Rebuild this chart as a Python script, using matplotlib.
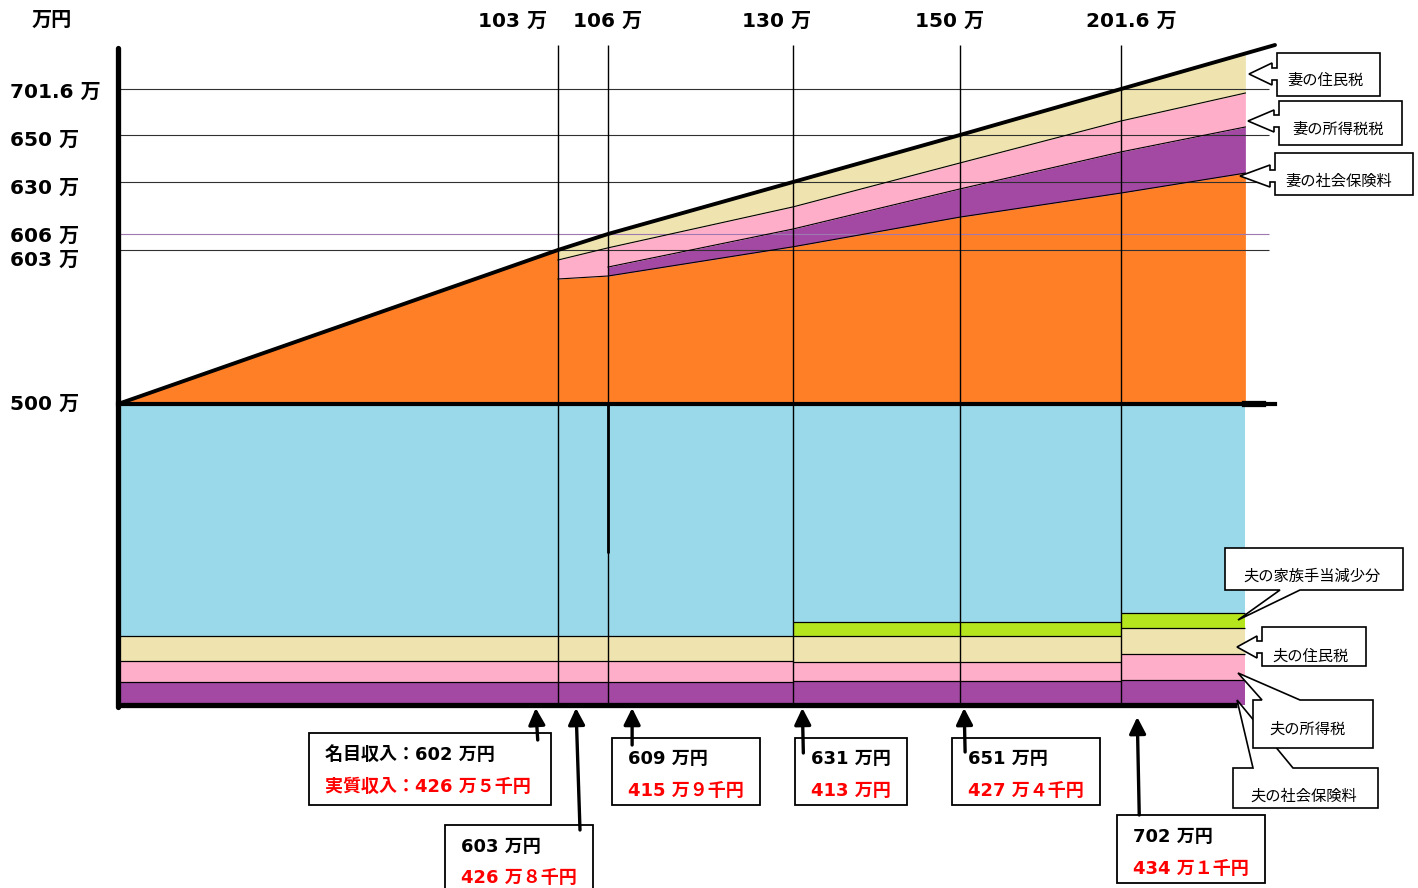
import numpy as np
import matplotlib
matplotlib.use("Agg")
import matplotlib.pyplot as plt
from matplotlib.patches import Polygon, Rectangle, FancyArrowPatch
from matplotlib.transforms import blended_transform_factory, offset_copy

plt.rcParams['font.family'] = ['DejaVu Sans', 'Noto Sans CJK JP']

# ---------------- data (単位: 万円) ----------------
husband_income = 500

# wife's income thresholds on the horizontal axis
wife_breaks = [103, 106, 130, 150, 201.6]
# household nominal income values marked on the vertical axis
y_ticks = [701.6, 650, 630, 606, 603, 500]

# wife's income grid and the deductions taken from her income
wife_x = [0, 103, 103, 106, 106, 130, 150, 201.6, 241.5]
wife_resident_tax = [0, 0, 6.7, 2.6, 2.6, 11.5, 11.9, 35.9, 44.4]
wife_income_tax = [0, 0, 12.7, 17.8, 11.8, 10.2, 11.3, 22.9, 38.1]
wife_social_ins = [0, 0, 0, 0, 6.0, 4.7, 13.0, 17.9, 25.2]

# husband's deductions, constant within each wife-income segment
husband_seg = [0, 130, 201.6, 241.5]
husband_social_ins = [38, 40, 41.5]
husband_income_tax = [35, 31.5, 43]
husband_resident_tax = [41.5, 43, 43]
husband_allowance_cut = [0, 23, 25]

x_max = 251  # right end of the total-income line

# sample points: wife's income and resulting real household income
sample_wife = [102, 103, 109, 131, 151, 202]
sample_real = [426.5, 426.8, 415.9, 413.0, 427.4, 434.1]

# ---------------- colours ----------------
C_BLUE = '#99D9EA'
C_ORANGE = '#FF7F27'
C_LIME = '#B5E61D'
C_CREAM = '#EFE4B0'
C_ROSE = '#FFAEC9'
C_PURPLE = '#A349A4'

# ---------------- layout (pixels) ----------------
W, H = 1418, 888
PLOT_L, PLOT_R, PLOT_T, PLOT_B = 118, 1275, 45, 705
x_anchor_px = [0, 440, 490, 675, 842, 1003, 1157]
y_anchor_px = [0, 301, 455, 471, 523, 570, 616, 660]
ref_line_end = 249
axis_bottom_end = 238.8


def piecewise(src, dst):
    src = np.asarray(src, float)
    dst = np.asarray(dst, float)
    s0 = (dst[1] - dst[0]) / (src[1] - src[0])
    s1 = (dst[-1] - dst[-2]) / (src[-1] - src[-2])

    def f(v):
        v = np.asarray(v, float)
        out = np.interp(v, src, dst)
        out = np.where(v < src[0], dst[0] + (v - src[0]) * s0, out)
        out = np.where(v > src[-1], dst[-1] + (v - src[-1]) * s1, out)
        return out
    return f


x_vals = [0] + wife_breaks + [x_max]
y_vals = sorted(set([0, husband_income + x_max] + y_ticks))

fig = plt.figure(figsize=(W / 100, H / 100), dpi=100)
ax = fig.add_axes([PLOT_L / W, (H - PLOT_B) / H,
                   (PLOT_R - PLOT_L) / W, (PLOT_B - PLOT_T) / H])
ax.set_xscale('function', functions=(piecewise(x_vals, x_anchor_px),
                                     piecewise(x_anchor_px, x_vals)))
ax.set_yscale('function', functions=(piecewise(y_vals, y_anchor_px),
                                     piecewise(y_anchor_px, y_vals)))
ax.set_xlim(0, x_max)
ax.set_ylim(0, husband_income + x_max)
ax.axis('off')

x_end = wife_x[-1]

# husband's income block
ax.fill_between([0, x_end], 0, husband_income, color=C_BLUE, lw=0, zorder=1)

# husband's deductions stacked from the bottom
for i in range(len(husband_seg) - 1):
    x0, x1 = husband_seg[i], husband_seg[i + 1]
    base = 0
    for val, col in [(husband_social_ins[i], C_PURPLE),
                     (husband_income_tax[i], C_ROSE),
                     (husband_resident_tax[i], C_CREAM),
                     (husband_allowance_cut[i], C_LIME)]:
        if val <= 0:
            continue
        ax.fill_between([x0, x1], base, base + val, color=col, lw=0, zorder=2)
        base += val
        ax.hlines(base, x0, x1, color='black', lw=0.9, zorder=4, clip_on=False)

# wife's income stacked on top of the husband's
wx = np.array(wife_x)
top = husband_income + wx
beige_lo = top - np.array(wife_resident_tax)
pink_lo = beige_lo - np.array(wife_income_tax)
net_top = pink_lo - np.array(wife_social_ins)

ax.fill_between(wx, husband_income, net_top, color=C_ORANGE, lw=0, zorder=1)
ax.fill_between(wx, net_top, pink_lo, color=C_PURPLE, lw=0, zorder=2)
ax.fill_between(wx, pink_lo, beige_lo, color=C_ROSE, lw=0, zorder=2)
ax.fill_between(wx, beige_lo, top, color=C_CREAM, lw=0, zorder=2)
for arr, start in [(beige_lo, 2), (pink_lo, 4), (net_top, 2)]:
    ax.plot(wx[start:], arr[start:], color='black', lw=0.8, zorder=4)

# reference lines at the marked household incomes
for v in y_ticks:
    if v == husband_income:
        continue
    col = '#a078b0' if v == 606 else '#303030'
    ax.hlines(v, 0, ref_line_end, color=col, lw=0.8, zorder=3, clip_on=False)

# vertical lines at the wife's income thresholds
for b in wife_breaks:
    ax.vlines(b, 0, husband_income + x_max, color='black', lw=1.0, zorder=4)
ax.vlines(106, 252, husband_income, color='black', lw=2.0, zorder=4)

# total household income line
ax.plot(x_vals, husband_income + np.array(x_vals), color='black', lw=2.8,
        zorder=6, solid_capstyle='round', clip_on=False)

# husband's income line
ax.plot([0, x_max], [husband_income, husband_income], color='black', lw=3.0,
        zorder=6, clip_on=False)
ax.plot([x_end, 247], [husband_income, husband_income], color='black', lw=4.5,
        zorder=6, clip_on=False)

# axes
ax.plot([0, 0], [-3, 748], color='black', lw=3.8, zorder=7,
        solid_capstyle='round', clip_on=False)
ax.plot([0, axis_bottom_end], [0, 0], color='black', lw=3.8, zorder=7,
        solid_capstyle='butt', clip_on=False)

# ---------------- annotation layer ----------------
ov = fig.add_axes([0, 0, 1, 1], zorder=5)
ov.set_xlim(0, W)
ov.set_ylim(H, 0)
ov.axis('off')
ov.patch.set_alpha(0)

LABEL_FS = 14.5
ov.text(52, 20, '万円', ha='center', va='center', fontsize=LABEL_FS,
        fontweight='bold')

# wife's income thresholds along the top
xlabel_dx = [-45, 0, -16, -10, 10]
xtrans = blended_transform_factory(ax.transData, ov.transData)
for b, dx in zip(wife_breaks, xlabel_dx):
    tr = offset_copy(xtrans, fig=fig, x=dx, y=0, units='dots')
    ax.text(b, 21, f'{b:g} 万', transform=tr, ha='center', va='center',
            fontsize=LABEL_FS, fontweight='bold', clip_on=False)

# household incomes on the left
ylabel_dy = [3, 5, 6, 2, 10, 0]
ytrans = blended_transform_factory(ov.transData, ax.transData)
for v, dy in zip(y_ticks, ylabel_dy):
    tr = offset_copy(ytrans, fig=fig, x=0, y=-dy, units='dots')
    ax.text(10, v, f'{v:g} 万', transform=tr, ha='left', va='center',
            fontsize=LABEL_FS, fontweight='bold', clip_on=False)

# result boxes below the axis
FW = str.maketrans('0123456789', '０１２３４５６７８９')


def man_sen(v):
    man = int(v)
    sen = int(round((v - man) * 10))
    return f'{man} 万{str(sen).translate(FW)}千円' if sen else f'{man} 万円'


box_rects = [(309, 733, 551, 805), (445, 825, 593, 905), (612, 738, 760, 805),
             (795, 738, 907, 805), (952, 738, 1100, 805), (1117, 815, 1265, 883)]
box_text_x = [325, 461, 628, 811, 968, 1133]
box_text_y = [(755, 787), (847, 878), (759, 791), (759, 791), (759, 791), (837, 869)]
arrow_tail_y = [740, 830, 745, 753, 752, 815]
arrow_tip_dx = [-18, 18, 1, 1, 1, 15]
arrow_tail_dx = [2, 4, 0, 1, 1, 2]
arrow_tip_gap = [3, 3, 3, 3, 3, 12]

inv = ov.transData.inverted()
for i, (w, real) in enumerate(zip(sample_wife, sample_real)):
    L, T, R, B = box_rects[i]
    ov.add_patch(Rectangle((L, T), R - L, B - T, fc='white', ec='black',
                           lw=1.3, zorder=3))
    nominal = f'{husband_income + w:g} 万円'
    real_txt = man_sen(real)
    if i == 0:
        nominal = '名目収入：' + nominal
        real_txt = '実質収入：' + real_txt
    ov.text(box_text_x[i], box_text_y[i][0], nominal, ha='left', va='center',
            fontsize=13, fontweight='bold', color='black', zorder=4)
    ov.text(box_text_x[i], box_text_y[i][1], real_txt, ha='left', va='center',
            fontsize=13, fontweight='bold', color='#ff0000', zorder=4)
    tip = inv.transform(ax.transData.transform((w, 0)))
    tip_x = tip[0] + arrow_tip_dx[i]
    tip_y = tip[1] + arrow_tip_gap[i]
    ov.add_patch(FancyArrowPatch((tip_x + arrow_tail_dx[i], arrow_tail_y[i]),
                                 (tip_x, tip_y),
                                 arrowstyle='-|>,head_length=0.5,head_width=0.25',
                                 mutation_scale=20, lw=2.4, color='black',
                                 shrinkA=0, shrinkB=0, zorder=6))

# callouts naming each deduction
CALL_FS = 11


def arrow_callout(L, T, R, B, tip, text, tpos, neck=5, shaft=6, head=11):
    tx, ty = tip
    pts = [(L, T), (R, T), (R, B), (L, B), (L, ty + shaft), (L - neck, ty + shaft),
           (L - neck, ty + head), (tx, ty), (L - neck, ty - head),
           (L - neck, ty - shaft), (L, ty - shaft)]
    ov.add_patch(Polygon(pts, closed=True, fc='white', ec='black', lw=1.2,
                         joinstyle='miter', zorder=3))
    ov.text(*tpos, text, ha='center', va='center', fontsize=CALL_FS, zorder=4)


def wedge_callout(L, T, R, B, tip, base, side, text, tpos):
    b1, b2 = base
    if side == 'bottom':
        pts = [(L, T), (R, T), (R, B), (b2, B), tip, (b1, B), (L, B)]
    else:
        pts = [(L, T), (b1, T), tip, (b2, T), (R, T), (R, B), (L, B)]
    ov.add_patch(Polygon(pts, closed=True, fc='white', ec='black', lw=1.2,
                         joinstyle='miter', zorder=3))
    ov.text(*tpos, text, ha='center', va='center', fontsize=CALL_FS, zorder=4)


arrow_callout(1277, 53, 1380, 96, (1249, 74), '妻の住民税', (1325, 80))
arrow_callout(1279, 101, 1402, 145, (1248, 121), '妻の所得税税', (1338, 129))
arrow_callout(1275, 153, 1413, 195, (1240, 176), '妻の社会保険料', (1339, 181))
arrow_callout(1262, 627, 1366, 666, (1237, 647), '夫の住民税', (1311, 656))
wedge_callout(1225, 548, 1403, 590, (1238, 620), (1280, 1300), 'bottom',
              '夫の家族手当減少分', (1312, 576))
wedge_callout(1233, 768, 1378, 808, (1237, 700), (1253, 1293), 'top',
              '夫の社会保険料', (1304, 796))
wedge_callout(1253, 700, 1373, 748, (1238, 673), (1262, 1300), 'top',
              '夫の所得税', (1308, 729))

fig.savefig('out.png', dpi=100)
